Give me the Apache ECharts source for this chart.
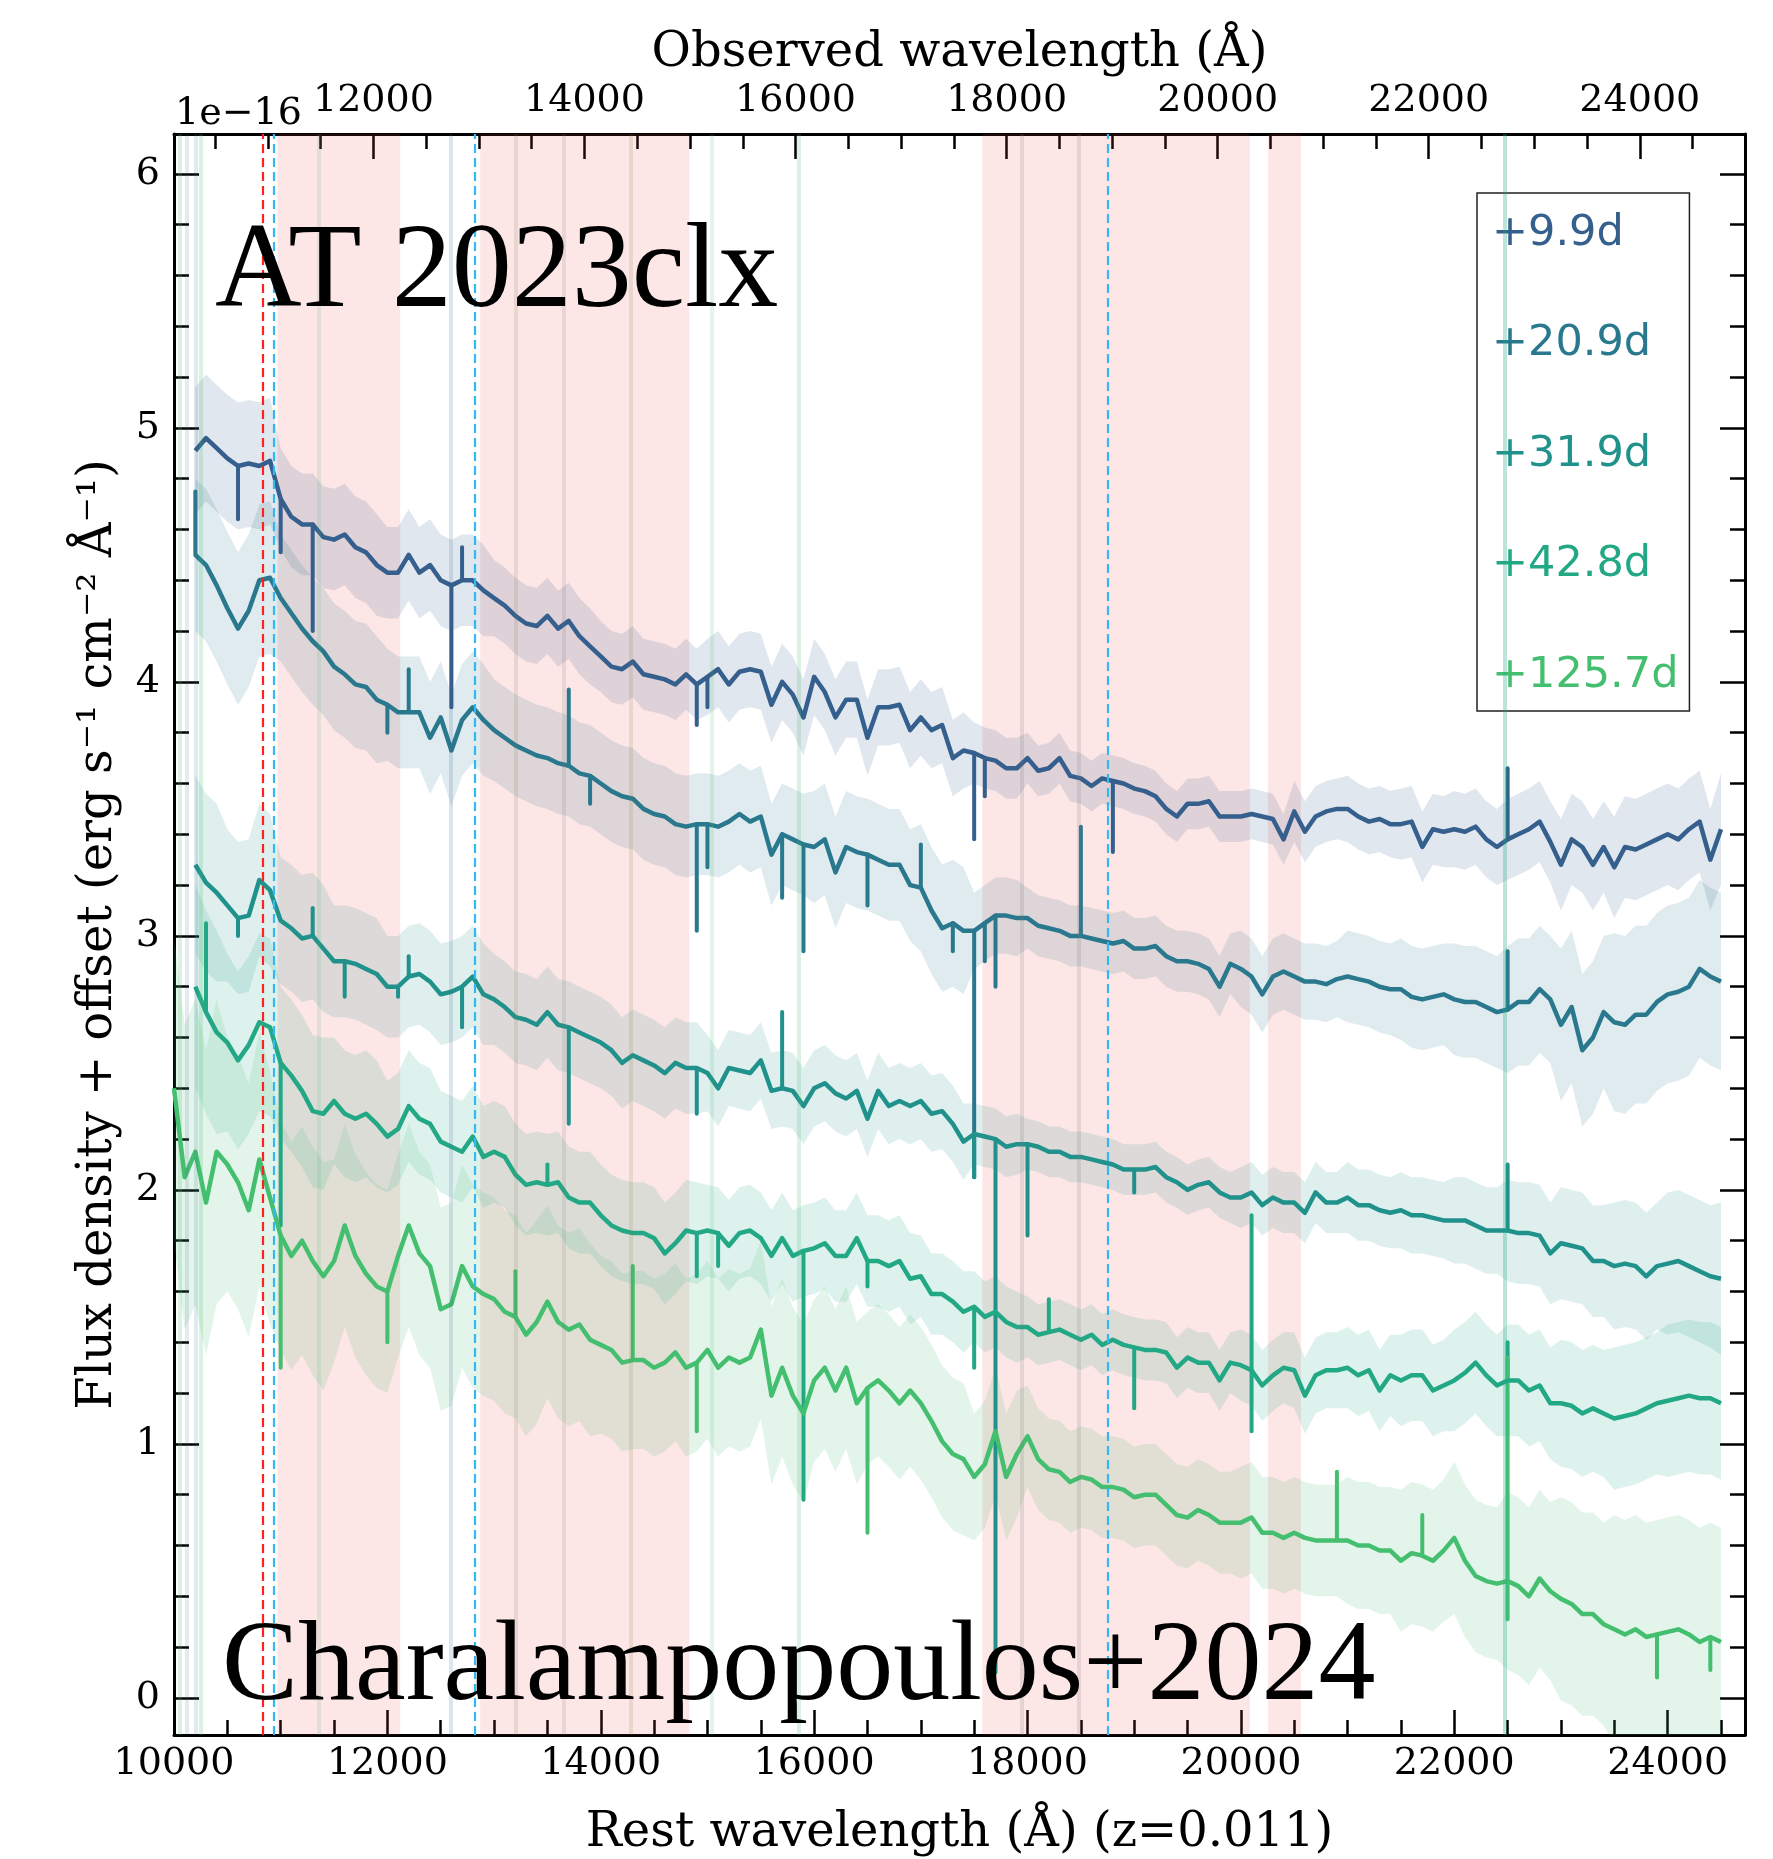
<!DOCTYPE html>
<html><head><meta charset="utf-8">
<script src="https://cdn.jsdelivr.net/npm/echarts@6/dist/echarts.min.js"></script>
<style>html,body{margin:0;padding:0;background:#fff}#c{width:1773px;height:1859px}</style>
</head><body><div id="c"></div>
<script>
// ---------------- DATA ----------------
const Z = 0.011;                       // redshift
const X_MIN = 10000, X_MAX = 24725;    // rest-frame axis range (Å)
const Y_MIN = -0.146, Y_MAX = 6.157;   // flux + offset (1e-16)

const xTickLabels   = [10000, 12000, 14000, 16000, 18000, 20000, 22000, 24000];
const obsTickLabels = [12000, 14000, 16000, 18000, 20000, 22000, 24000];
const yTickLabels   = [0, 1, 2, 3, 4, 5, 6];

const epochs = ['+9.9d', '+20.9d', '+31.9d', '+42.8d', '+125.7d'];

const wavelength = [
10000,10100,10200,10300,10400,10500,10600,10700,10800,10900,
11000,11100,11200,11300,11400,11500,11600,11700,11800,11900,
12000,12100,12200,12300,12400,12500,12600,12700,12800,12900,
13000,13100,13200,13300,13400,13500,13600,13700,13800,13900,
14000,14100,14200,14300,14400,14500,14600,14700,14800,14900,
15000,15100,15200,15300,15400,15500,15600,15700,15800,15900,
16000,16100,16200,16300,16400,16500,16600,16700,16800,16900,
17000,17100,17200,17300,17400,17500,17600,17700,17800,17900,
18000,18100,18200,18300,18400,18500,18600,18700,18800,18900,
19000,19100,19200,19300,19400,19500,19600,19700,19800,19900,
20000,20100,20200,20300,20400,20500,20600,20700,20800,20900,
21000,21100,21200,21300,21400,21500,21600,21700,21800,21900,
22000,22100,22200,22300,22400,22500,22600,22700,22800,22900,
23000,23100,23200,23300,23400,23500,23600,23700,23800,23900,
24000,24100,24200,24300,24400,24500];

// continuum-level flux of each epoch
const flux_9_9d = [
null,null,4.91,4.96,4.92,4.88,4.85,4.86,4.85,4.87,
4.72,4.65,4.62,4.62,4.57,4.56,4.58,4.53,4.51,4.46,
4.43,4.43,4.50,4.43,4.46,4.40,4.38,4.40,4.40,4.36,
4.33,4.30,4.26,4.23,4.22,4.26,4.21,4.24,4.18,4.14,
4.10,4.06,4.05,4.08,4.03,4.02,4.01,3.99,4.03,3.99,
4.02,4.05,3.99,4.04,4.05,4.04,3.91,4.00,3.95,3.86,
4.02,3.96,3.86,3.93,3.93,3.78,3.90,3.90,3.91,3.81,
3.86,3.81,3.83,3.70,3.73,3.72,3.70,3.69,3.66,3.66,
3.70,3.65,3.66,3.70,3.63,3.62,3.59,3.62,3.61,3.60,
3.58,3.57,3.55,3.50,3.47,3.52,3.52,3.53,3.47,3.47,
3.47,3.48,3.47,3.46,3.38,3.49,3.41,3.47,3.49,3.50,
3.50,3.47,3.45,3.46,3.44,3.44,3.45,3.35,3.42,3.41,
3.42,3.41,3.43,3.38,3.35,3.38,3.40,3.42,3.45,3.37,
3.28,3.38,3.35,3.28,3.35,3.27,3.35,3.34,3.36,3.38,
3.40,3.38,3.42,3.45,3.30,3.42];

const flux_20_9d = [
null,null,4.50,4.46,4.38,4.29,4.21,4.28,4.40,4.41,
4.33,4.27,4.21,4.16,4.12,4.06,4.03,3.99,3.98,3.93,
3.91,3.88,3.88,3.88,3.78,3.86,3.73,3.85,3.90,3.85,
3.81,3.78,3.75,3.73,3.71,3.70,3.68,3.67,3.64,3.63,
3.60,3.57,3.55,3.54,3.50,3.48,3.47,3.44,3.43,3.44,
3.44,3.43,3.45,3.48,3.45,3.47,3.32,3.40,3.38,3.36,
3.35,3.38,3.25,3.35,3.33,3.32,3.30,3.28,3.28,3.20,
3.19,3.10,3.03,3.05,3.02,3.02,3.05,3.08,3.08,3.07,
3.07,3.04,3.03,3.02,3.00,3.00,2.99,2.98,2.97,2.98,
2.95,2.95,2.96,2.92,2.90,2.90,2.89,2.87,2.80,2.89,
2.87,2.84,2.77,2.84,2.86,2.84,2.82,2.82,2.81,2.83,
2.84,2.83,2.82,2.80,2.79,2.79,2.76,2.75,2.76,2.77,
2.75,2.74,2.74,2.72,2.70,2.71,2.74,2.74,2.79,2.75,
2.65,2.72,2.55,2.60,2.70,2.66,2.65,2.69,2.69,2.74,
2.77,2.78,2.80,2.87,2.84,2.82];

const flux_31_9d = [
null,null,3.28,3.21,3.17,3.12,3.07,3.08,3.22,3.18,
3.06,3.03,2.99,3.00,2.95,2.90,2.90,2.89,2.87,2.85,
2.80,2.80,2.84,2.85,2.82,2.77,2.78,2.80,2.84,2.77,
2.75,2.72,2.68,2.67,2.65,2.70,2.65,2.64,2.62,2.60,
2.58,2.55,2.50,2.53,2.51,2.49,2.46,2.50,2.48,2.48,
2.46,2.40,2.48,2.47,2.46,2.51,2.39,2.40,2.39,2.33,
2.40,2.42,2.38,2.36,2.39,2.28,2.39,2.33,2.35,2.33,
2.35,2.30,2.31,2.26,2.19,2.22,2.21,2.20,2.17,2.18,
2.18,2.17,2.15,2.15,2.13,2.13,2.12,2.11,2.10,2.08,
2.08,2.08,2.09,2.05,2.03,2.00,2.02,2.03,1.99,1.97,
1.97,1.99,1.94,1.97,1.95,1.95,1.91,1.99,1.95,1.95,
1.97,1.94,1.94,1.92,1.91,1.92,1.90,1.90,1.89,1.88,
1.88,1.88,1.86,1.84,1.84,1.84,1.83,1.83,1.82,1.75,
1.79,1.78,1.77,1.72,1.72,1.70,1.71,1.70,1.66,1.70,
1.71,1.72,1.70,1.68,1.66,1.65];

const flux_42_8d = [
null,null,2.80,2.70,2.62,2.58,2.51,2.57,2.66,2.64,
2.50,2.45,2.39,2.31,2.30,2.35,2.30,2.28,2.30,2.26,
2.21,2.24,2.33,2.28,2.26,2.19,2.17,2.15,2.21,2.13,
2.15,2.13,2.06,2.02,2.03,2.02,2.03,1.97,1.95,1.95,
1.90,1.86,1.84,1.83,1.83,1.81,1.75,1.79,1.84,1.83,
1.84,1.83,1.78,1.83,1.84,1.81,1.74,1.81,1.74,1.76,
1.77,1.79,1.74,1.74,1.81,1.72,1.72,1.70,1.72,1.65,
1.66,1.59,1.59,1.56,1.52,1.54,1.50,1.52,1.48,1.46,
1.46,1.43,1.44,1.45,1.43,1.41,1.43,1.39,1.41,1.39,
1.38,1.37,1.37,1.36,1.30,1.34,1.32,1.32,1.25,1.32,
1.31,1.29,1.23,1.27,1.30,1.29,1.19,1.27,1.29,1.29,
1.30,1.27,1.29,1.21,1.27,1.25,1.27,1.27,1.21,1.23,
1.25,1.28,1.32,1.27,1.23,1.25,1.25,1.21,1.23,1.16,
1.16,1.15,1.12,1.14,1.12,1.10,1.11,1.12,1.14,1.16,
1.17,1.18,1.19,1.18,1.18,1.16];

const flux_125_7d = [
2.40,2.05,2.15,1.95,2.15,2.10,2.03,1.92,2.12,1.97,
1.82,1.74,1.80,1.72,1.66,1.72,1.86,1.74,1.67,1.62,
1.60,1.74,1.86,1.75,1.70,1.53,1.55,1.70,1.62,1.59,
1.57,1.52,1.50,1.43,1.48,1.56,1.48,1.45,1.47,1.41,
1.39,1.37,1.32,1.33,1.33,1.30,1.32,1.36,1.30,1.32,
1.37,1.30,1.34,1.32,1.34,1.45,1.19,1.30,1.19,1.12,
1.25,1.30,1.21,1.30,1.16,1.22,1.25,1.21,1.16,1.21,
1.16,1.09,1.01,0.96,0.94,0.87,0.92,1.05,0.87,0.96,
1.03,0.94,0.90,0.89,0.85,0.87,0.86,0.83,0.83,0.82,
0.79,0.80,0.80,0.76,0.72,0.71,0.74,0.72,0.69,0.69,
0.69,0.71,0.65,0.65,0.63,0.65,0.63,0.62,0.62,0.62,
0.62,0.60,0.60,0.58,0.58,0.54,0.57,0.56,0.54,0.58,
0.63,0.54,0.48,0.46,0.45,0.46,0.44,0.40,0.47,0.42,
0.39,0.37,0.33,0.33,0.29,0.27,0.25,0.27,0.24,0.25,
0.26,0.27,0.25,0.22,0.24,0.22];

// narrow absorption / emission spikes: [rest Å, extreme flux]
const spikes_9_9d   = [[10600,4.64],[11000,4.51],[11300,4.20],[12600,3.90],[12700,4.53],[14900,3.83],[15000,3.90],[17500,3.38],[17600,3.55],[18800,3.33],[22500,3.66]];
const spikes_20_9d  = [[10200,4.75],[12000,3.80],[12200,4.05],[13700,3.97],[13900,3.52],[14900,3.02],[15000,3.27],[15700,3.15],[15900,2.94],[16500,3.12],[17000,3.36],[17300,2.94],[17500,2.05],[17600,2.90],[17700,2.80],[18500,3.43],[22500,2.94]];
const spikes_31_9d  = [[10600,3.00],[11300,3.11],[11600,2.76],[12100,2.76],[12200,2.92],[12700,2.64],[13700,2.26],[14900,2.30],[15700,2.70],[17500,2.05],[17700,0.10],[18000,1.82],[19000,1.99],[22500,2.10]];
const spikes_42_8d  = [[10300,3.05],[11000,1.86],[13500,2.10],[14900,1.66],[15100,1.70],[15900,0.78],[16500,1.62],[17500,1.30],[18200,1.57],[19000,1.14],[20100,1.90],[20100,1.05],[22500,1.40]];
const spikes_125_7d = [[11000,1.30],[12000,1.40],[13200,1.68],[14300,1.70],[14900,1.05],[16500,0.65],[20900,0.89],[21700,0.72],[22500,1.34],[22500,0.31],[23900,0.08],[24400,0.11]];

// flux uncertainty (half width), one value per 500 Å bin starting at 10000 Å
const err_9_9d   = [0.25,0.25,0.20,0.20,0.18,0.18,0.15,0.15,0.14,0.14,0.15,0.15,0.15,0.15,0.15,0.12,0.10,0.10,0.10,0.10,0.10,0.12,0.13,0.14,0.15,0.16,0.18,0.20,0.20,0.22];
const err_20_9d  = [0.30,0.30,0.25,0.25,0.22,0.22,0.20,0.20,0.20,0.20,0.20,0.20,0.22,0.22,0.25,0.15,0.12,0.12,0.12,0.12,0.15,0.15,0.18,0.20,0.22,0.25,0.30,0.35,0.35,0.35];
const err_31_9d  = [0.35,0.30,0.25,0.22,0.20,0.20,0.18,0.18,0.18,0.18,0.15,0.15,0.15,0.15,0.15,0.12,0.10,0.10,0.10,0.10,0.12,0.12,0.14,0.15,0.17,0.20,0.22,0.25,0.28,0.30];
const err_42_8d  = [0.40,0.35,0.30,0.25,0.22,0.20,0.20,0.20,0.20,0.20,0.18,0.18,0.18,0.18,0.16,0.14,0.12,0.12,0.12,0.12,0.14,0.15,0.16,0.18,0.20,0.22,0.25,0.28,0.30,0.30];
const err_125_7d = [0.60,0.50,0.45,0.40,0.40,0.40,0.40,0.38,0.35,0.35,0.35,0.35,0.32,0.30,0.30,0.25,0.20,0.20,0.20,0.20,0.22,0.22,0.25,0.28,0.30,0.35,0.40,0.45,0.45,0.45];

// telluric regions (rest Å)
const telluricBands = [[10970, 12120], [12870, 14830], [17577, 20084], [20253, 20563]];
// identified lines (rest Å)
const lineNames = ['HeI', 'Paγ', 'Paβ', 'Paα'];
const lineWaves = [10830, 10938, 12818, 18751];
const lineLabelY = 5.925;
// strong single-pixel error spikes (rest Å)
const spikeWaves = [10050, 10120, 10200, 10255, 11360, 12596, 13200, 13650, 14280, 15042, 15860, 17950, 18484, 22470];

// ---------------- STYLE ----------------
const colors = ['#355f8d', '#2a788e', '#21918c', '#22a884', '#44bf70'];
const bandRGB = ['53,95,141', '42,120,142', '33,145,140', '34,168,132', '68,191,112'];
const spikeColors = ['rgba(68,191,112,0.2)','rgba(53,95,141,0.13)','rgba(42,120,142,0.15)','rgba(68,191,112,0.2)','rgba(68,191,112,0.15)',
  'rgba(53,95,141,0.16)','rgba(120,120,90,0.15)','rgba(120,120,120,0.15)','rgba(120,120,60,0.15)',
  'rgba(68,191,112,0.15)','rgba(68,191,112,0.2)','rgba(120,120,120,0.18)','rgba(120,120,120,0.18)','rgba(34,168,132,0.3)'];
const lineColors = ['#ff2020', '#33b8f2', '#33b8f2', '#33b8f2'];
const lineTextColors = ['#ee3a3a', '#4cc2f2', '#4cc2f2', '#4cc2f2'];
const lineLabelPos = ['left', 'right', 'left', 'right'];
const lineLabelDist = [6, 8, 8, 13];
const SERIF = 'DejaVu Serif';
const SANS = 'DejaVu Sans';
const LINE_W = 4.5;

const fluxes = [flux_9_9d, flux_20_9d, flux_31_9d, flux_42_8d, flux_125_7d];
const spikes = [spikes_9_9d, spikes_20_9d, spikes_31_9d, spikes_42_8d, spikes_125_7d];
const errs = [err_9_9d, err_20_9d, err_31_9d, err_42_8d, err_125_7d];

// minor tick positions (every 500 Å)
const xMinor = [], obsMinor = [], yMinor = [];
for (let v = 10500; v <= X_MAX; v += 500) if (v % 2000) xMinor.push(v);
for (let v = 10500; v <= X_MAX * (1 + Z); v += 500) if (v % 2000) obsMinor.push(v);
for (let k = 1; k < 30; k++) if (k % 5) yMinor.push(k / 5);

const series = [];
// telluric shading
series.push({
  type: 'line', data: [], z: 0, silent: true,
  markArea: { silent: true, itemStyle: { color: 'rgba(240,60,60,0.13)' },
    data: telluricBands.map(b => [{ xAxis: b[0] }, { xAxis: b[1] }]) }
});
// error spikes
series.push({
  type: 'line', data: [], z: 1, silent: true,
  markLine: { silent: true, symbol: ['none', 'none'], label: { show: false },
    data: spikeWaves.map((w, i) => ({ xAxis: w, lineStyle: { color: spikeColors[i], width: 4, type: 'solid' } })) }
});
// uncertainty bands (flux ± err), drawn through the axis scales
fluxes.forEach((f, k) => {
  series.push({
    type: 'custom', z: 2, silent: true, clip: true, data: [[X_MIN, 0]],
    renderItem: (params, api) => {
      const up = [], dn = [];
      f.forEach((v, i) => {
        if (v == null) return;
        const h = errs[k][Math.floor(i / 5)];
        up.push(api.coord([wavelength[i], v + h]));
        dn.push(api.coord([wavelength[i], v - h]));
      });
      return { type: 'polygon', shape: { points: up.concat(dn.reverse()) },
        style: { fill: 'rgba(' + bandRGB[k] + ',0.15)', stroke: null } };
    }
  });
});
// spectra
fluxes.forEach((f, k) => {
  series.push({ name: epochs[k], type: 'line', data: f.map((v, i) => [wavelength[i], v]), symbol: 'none',
    showSymbol: false, z: 3, silent: true, lineStyle: { color: colors[k], width: LINE_W, join: 'round' },
    itemStyle: { color: colors[k] }, emphasis: { disabled: true } });
});
// narrow spikes: vertical strokes from the spectrum to the extreme value
spikes.forEach((sp, k) => {
  series.push({
    type: 'custom', z: 3, silent: true, clip: true, data: sp,
    renderItem: (params, api) => {
      const w = api.value(0), ext = api.value(1);
      const base = fluxes[k][wavelength.indexOf(w)];
      const p0 = api.coord([w, base]), p1 = api.coord([w, ext]);
      return { type: 'line', shape: { x1: p0[0], y1: p0[1], x2: p1[0], y2: p1[1] },
        style: { stroke: colors[k], lineWidth: LINE_W - 0.5, lineCap: 'round' } };
    }
  });
});
// identified line markers + labels
series.push({
  type: 'scatter', z: 4, silent: true, symbolSize: 1, itemStyle: { opacity: 0 },
  data: lineWaves.map((w, i) => ({ name: lineNames[i], value: [w, lineLabelY],
    label: { show: true, formatter: lineNames[i], position: lineLabelPos[i], distance: lineLabelDist[i],
      color: lineTextColors[i], fontFamily: SANS, fontSize: 35 } })),
  markLine: { silent: true, symbol: ['none', 'none'], label: { show: false },
    data: lineWaves.map((w, i) => ({ xAxis: w, lineStyle: { color: lineColors[i], width: 2.2, type: [9, 5] } })) }
});

const axisLineStyle = { show: true, onZero: false, lineStyle: { color: '#000', width: 3 } };
const noLine = { show: false, onZero: false };
const tickStyle = { color: '#000', width: 2.5 };
const numFmt = v => String(Math.round(v * 1000) / 1000);

const option = {
  animation: false,
  backgroundColor: '#fff',
  grid: { left: 174, right: 28, top: 134, bottom: 124, containLabel: false, outerBoundsMode: 'none' },
  legend: {
    orient: 'vertical', left: 1477, top: 193, icon: 'none', itemWidth: 0, itemHeight: 43, itemGap: 67.5,
    padding: [19, 11, 14, 10], borderColor: '#222', borderWidth: 1.5, selectedMode: false,
    textStyle: { fontFamily: SANS, fontSize: 43, lineHeight: 43 },
    data: epochs.map((e, k) => ({ name: e, textStyle: { color: colors[k] } }))
  },
  xAxis: [
    { type: 'value', position: 'bottom', min: X_MIN, max: X_MAX,
      name: 'Rest wavelength (Å) (z=0.011)', nameLocation: 'middle', nameGap: 75,
      nameTextStyle: { fontFamily: SERIF, fontSize: 48, color: '#000' },
      axisLine: axisLineStyle, splitLine: { show: false },
      axisTick: { show: true, inside: true, length: 25, customValues: xTickLabels, lineStyle: tickStyle },
      axisLabel: { customValues: xTickLabels, formatter: numFmt, fontFamily: SERIF, fontSize: 38, color: '#000', margin: 10 } },
    { type: 'value', position: 'bottom', min: X_MIN, max: X_MAX, axisLine: noLine, splitLine: { show: false },
      axisTick: { show: true, inside: true, length: 15, customValues: xMinor, lineStyle: tickStyle },
      axisLabel: { show: false } },
    { type: 'value', position: 'top', min: X_MIN * (1 + Z), max: X_MAX * (1 + Z),
      name: 'Observed wavelength (Å)', nameLocation: 'middle', nameGap: 48,
      nameTextStyle: { fontFamily: SERIF, fontSize: 48, color: '#000' },
      axisLine: axisLineStyle, splitLine: { show: false },
      axisTick: { show: true, inside: true, length: 25, customValues: obsTickLabels, lineStyle: tickStyle },
      axisLabel: { customValues: obsTickLabels, formatter: numFmt, fontFamily: SERIF, fontSize: 38, color: '#000', margin: 14 } },
    { type: 'value', position: 'top', min: X_MIN * (1 + Z), max: X_MAX * (1 + Z), axisLine: noLine, splitLine: { show: false },
      axisTick: { show: true, inside: true, length: 15, customValues: obsMinor, lineStyle: tickStyle },
      axisLabel: { show: false } }
  ],
  yAxis: [
    { type: 'value', position: 'left', min: Y_MIN, max: Y_MAX,
      name: 'Flux density + offset (erg s⁻¹ cm⁻² Å⁻¹)', nameLocation: 'middle', nameGap: 51,
      nameTextStyle: { fontFamily: SERIF, fontSize: 48, color: '#000' },
      axisLine: axisLineStyle, splitLine: { show: false },
      axisTick: { show: true, inside: true, length: 25, customValues: yTickLabels, lineStyle: tickStyle },
      axisLabel: { customValues: yTickLabels, formatter: numFmt, fontFamily: SERIF, fontSize: 38, color: '#000', margin: 14 } },
    { type: 'value', position: 'left', min: Y_MIN, max: Y_MAX, axisLine: noLine, splitLine: { show: false },
      axisTick: { show: true, inside: true, length: 15, customValues: yMinor, lineStyle: tickStyle },
      axisLabel: { show: false } },
    { type: 'value', position: 'right', min: Y_MIN, max: Y_MAX, axisLine: axisLineStyle, splitLine: { show: false },
      axisTick: { show: true, inside: true, length: 25, customValues: yTickLabels, lineStyle: tickStyle },
      axisLabel: { show: false } },
    { type: 'value', position: 'right', min: Y_MIN, max: Y_MAX, axisLine: noLine, splitLine: { show: false },
      axisTick: { show: true, inside: true, length: 15, customValues: yMinor, lineStyle: tickStyle },
      axisLabel: { show: false } }
  ],
  graphic: [
    { type: 'text', silent: true, z: 10, style: { text: '1e−16', x: 175, y: 114, font: '38px "DejaVu Serif"', fill: '#000',
      textAlign: 'left', align: 'left', textVerticalAlign: 'middle', verticalAlign: 'middle' } },
    { type: 'text', silent: true, z: 10, style: { text: 'AT 2023clx', x: 215, y: 274, font: '120px "Liberation Serif"', fill: '#000',
      textAlign: 'left', align: 'left', textVerticalAlign: 'middle', verticalAlign: 'middle' } },
    { type: 'text', silent: true, z: 10, style: { text: 'Charalampopoulos+2024', x: 222, y: 1669, font: '114px "Liberation Serif"', fill: '#000',
      textAlign: 'left', align: 'left', textVerticalAlign: 'middle', verticalAlign: 'middle' } }
  ],
  series: series
};

const chart = echarts.init(document.getElementById('c'), null, { renderer: 'canvas' });
chart.setOption(option);
</script></body></html>
